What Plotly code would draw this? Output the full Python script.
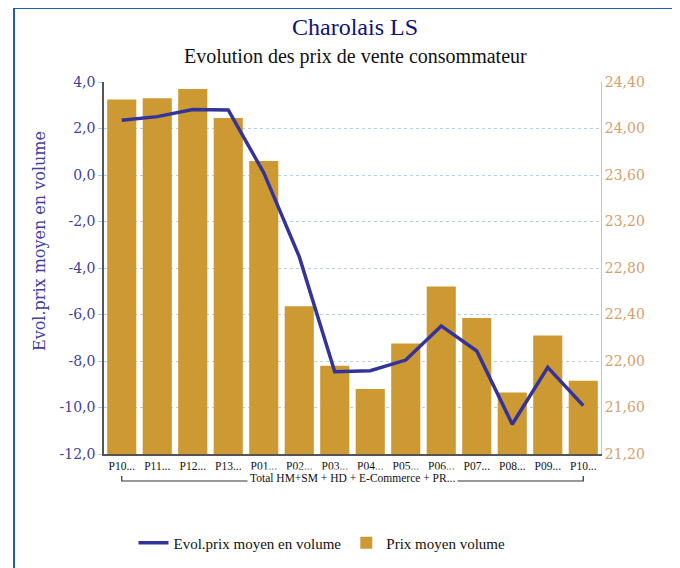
import plotly.graph_objects as go

categories = ["P10...", "P11...", "P12...", "P13...", "P01...", "P02...", "P03...",
              "P04...", "P05...", "P06...", "P07...", "P08...", "P09...", "P10..."]
prix_moyen = [24.25, 24.26, 24.34, 24.09, 23.72, 22.47, 21.96,
              21.76, 22.15, 22.64, 22.37, 21.73, 22.22, 21.83]
evol_prix = [2.35, 2.51, 2.82, 2.80, 0.10, -3.51, -8.46,
             -8.42, -7.96, -6.49, -7.57, -10.72, -8.27, -9.92]
group_label = "Total HM+SM + HD + E-Commerce + PR..."
left_ticks = [-12, -10, -8, -6, -4, -2, 0, 2, 4]
right_ticks = [21.2, 21.6, 22.0, 22.4, 22.8, 23.2, 23.6, 24.0, 24.4]

idx = list(range(len(categories)))

BAR = "#CC9933"
LINE = "#333399"
LEFTC = "#4040A0"
RIGHTC = "#D4A06C"
GRID = "#B4CFEA"
SERIF = "Liberation Serif"
WIDE = "DejaVu Serif"

OFF = 8  # page body margin of the browser
W, H = 680, 568
# plot area in screen pixels: x 104..601, y 82..454
SX0, SX1, SY0, SY1 = 104, 601, 82, 454
L = SX0 - OFF
T = SY0 - OFF
R = W - (SX1 - OFF)
B = H - (SY1 - OFF)
pw, ph = SX1 - SX0, SY1 - SY0


def px(x):
    return (x - SX0) / pw


def py(y):
    return (SY1 - y) / ph


fig = go.Figure()
fig.add_trace(go.Bar(
    x=idx, y=prix_moyen, name="Prix moyen volume", marker_color=BAR,
    marker_line_width=0, yaxis="y", legendrank=2,
))
fig.add_trace(go.Scatter(
    x=idx, y=evol_prix, name="Evol.prix moyen en volume", mode="lines",
    line=dict(color=LINE, width=3.5), yaxis="y2", legendrank=1,
))

fig.update_layout(
    width=W, height=H,
    margin=dict(l=L, r=R, t=T, b=B, autoexpand=False),
    paper_bgcolor="white", plot_bgcolor="white",
    bargap=0.18,
    showlegend=True,
    legend=dict(orientation="h", x=px(322), y=py(543), xanchor="center", yanchor="middle",
                font=dict(family=SERIF, size=15, color="#111111"), itemwidth=30,
                traceorder="normal"),
    xaxis=dict(
        range=[-0.5, len(categories) - 0.5], tickvals=idx, ticktext=categories,
        showgrid=False, showline=True, linecolor="#555555", linewidth=1.5,
        ticks="", tickfont=dict(family=SERIF, size=11.5, color="#111111"),
        zeroline=False, fixedrange=True,
    ),
    yaxis=dict(
        side="right", range=[21.2, 24.4], tickvals=right_ticks,
        ticktext=[f"{v:.2f}".replace(".", ",") for v in right_ticks],
        tickfont=dict(family=WIDE, size=14, color=RIGHTC),
        showgrid=True, gridcolor=GRID, griddash="dot", gridwidth=1,
        showline=True, linecolor="#A8C8F0", linewidth=1, ticks="",
        zeroline=False,
    ),
    yaxis2=dict(
        side="left", overlaying="y", range=[-12, 4], tickvals=left_ticks,
        ticktext=[f"{v:.1f}".replace(".", ",") for v in left_ticks],
        tickfont=dict(family=WIDE, size=14, color=LEFTC),
        showgrid=False, showline=True, linecolor="#555555", linewidth=1.5,
        ticks="outside", ticklen=4, tickcolor="#A8C8F0",
        zeroline=False,
    ),
    shapes=[
        dict(type="rect", xref="paper", yref="paper", x0=px(14), x1=px(720),
             y0=py(8), y1=py(620), line=dict(color="#1F5FAE", width=2),
             fillcolor="rgba(0,0,0,0)", layer="below"),
        dict(type="path", xref="x", yref="paper",
             path=f"M 0 {py(476)} L 0 {py(481)} L {len(categories)-1} {py(481)} L {len(categories)-1} {py(476)}",
             line=dict(color="#333333", width=1.2)),
    ],
    annotations=[
        dict(text="Charolais LS", x=px(355), y=py(27), xref="paper", yref="paper",
             showarrow=False, font=dict(family=SERIF, size=24, color="#10107A"),
             xanchor="center", yanchor="middle"),
        dict(text="Evolution des prix de vente consommateur", x=px(355), y=py(56),
             xref="paper", yref="paper", showarrow=False,
             font=dict(family=SERIF, size=20, color="#111111"),
             xanchor="center", yanchor="middle"),
        dict(text="Evol.prix moyen en volume", x=px(40), y=py(241), xref="paper", yref="paper",
             showarrow=False, textangle=-90, font=dict(family=WIDE, size=16, color=LEFTC),
             xanchor="center", yanchor="middle"),
        dict(text="Prix moyen volume", x=px(682), y=py(276), xref="paper", yref="paper",
             showarrow=False, textangle=90, font=dict(family=WIDE, size=14, color=RIGHTC),
             xanchor="center", yanchor="middle"),
        dict(text=group_label, x=(len(categories) - 1) / 2, y=py(478), xref="x", yref="paper",
             showarrow=False, font=dict(family=SERIF, size=11.5, color="#111111"),
             bgcolor="white", borderpad=2, xanchor="center", yanchor="middle"),
    ],
)

fig.write_html("out.html")
